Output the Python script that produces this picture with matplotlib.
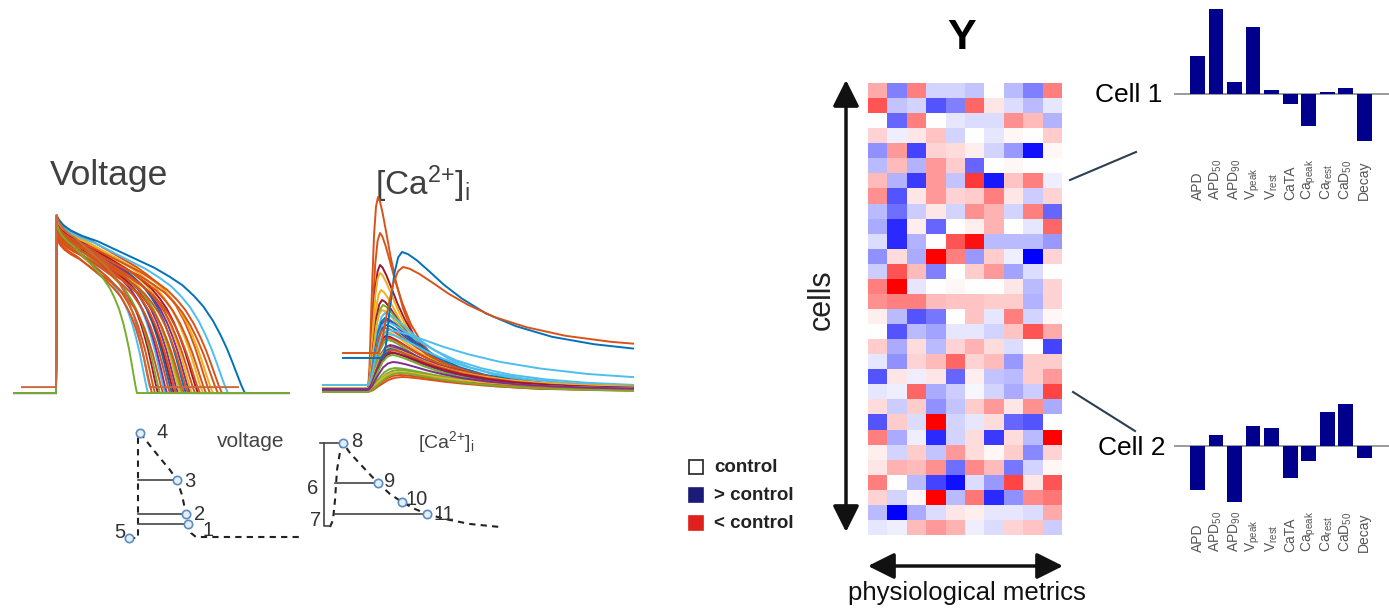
import numpy as np
import matplotlib.pyplot as plt
from matplotlib.patches import Rectangle
from matplotlib.transforms import blended_transform_factory

plt.rcParams['font.family'] = ['Liberation Sans', 'DejaVu Sans']
plt.rcParams['mathtext.fontset'] = 'custom'
plt.rcParams['mathtext.rm'] = 'Liberation Sans'
plt.rcParams['mathtext.it'] = 'Liberation Sans:italic'
plt.rcParams['mathtext.bf'] = 'Liberation Sans:bold'

W, H = 1389, 609

# MATLAB default line colours
MB, MO, MY, MP, MG, MC, MR = '#0072BD', '#D95319', '#EDB120', '#7E2F8E', '#77AC30', '#4DBEEE', '#A2142F'

# =========================================================
# Data: action potentials (ms, mV)
# =========================================================
ap_tau = [0, 0.004, 0.015, 0.04, 0.08, 0.14, 0.22, 0.32, 0.42, 0.52, 0.6, 0.67,
          0.73, 0.78, 0.83, 0.87, 0.905, 0.935, 0.96, 0.98, 0.995, 1.0]
ap_shape = [0, 1.0, 0.98, 0.95, 0.92, 0.89, 0.86, 0.81, 0.76, 0.71, 0.66, 0.61,
            0.55, 0.49, 0.41, 0.33, 0.25, 0.17, 0.10, 0.045, 0.01, 0]
ap_apd = [184, 192, 198, 204, 208, 214, 218, 222, 228, 232, 236, 240, 244, 248, 252,
          256, 260, 264, 268, 272, 278, 284, 288, 294, 300, 308, 314, 324, 332, 344, 378, 162]
ap_peak = [28, 22, 25, 30, 28, 20, 32, 30, 24, 31, 29, 26, 30, 32, 28,
           22, 33, 25, 30, 33, 27, 31, 24, 33, 28, 35, 32, 26, 29, 33, 34, 30]
ap_color = [MC, MO, MO, MR, MG, MO, MC, MP, MO, MB, MR, MO, MP, MY, MG,
            MO, MB, MO, MP, MY, MO, MR, MO, MY, MO, MO, MY, MO, MO, MC, MB, MG]
ap_rest = -85
ap_start, ap_end = -86, 480

# odd trace with depolarised rest
odd_rest, odd_apd, odd_peak, odd_start, odd_end = -81, 188, 35, -68, 364

# =========================================================
# Data: calcium transients (ms, uM)
# =========================================================
rise_u = [0, 0.15, 0.35, 0.6, 0.8, 1.0]
rise_v = [0, 0.12, 0.45, 0.8, 0.95, 1.0]
decay_u = [0, 0.1, 0.25, 0.45, 0.7, 1.0, 1.4, 1.9, 2.5, 3.2, 4.0, 5.0, 6.5, 9.0, 20]
decay_v = [1, 0.98, 0.92, 0.82, 0.69, 0.56, 0.42, 0.3, 0.2, 0.13, 0.08, 0.045, 0.02, 0.005, 0]

ca_rest = [0.100, 0.100, 0.100, 0.105, 0.095, 0.105, 0.100, 0.110, 0.095, 0.105,
           0.100, 0.110, 0.100, 0.095, 0.105, 0.100, 0.110, 0.100, 0.095, 0.105,
           0.100, 0.110, 0.095, 0.100, 0.105, 0.100, 0.095, 0.125, 0.100, 0.095,
           0.100, 0.095, 0.090, 0.090, 0.100, 0.260, 0.285]
ca_peak = [1.065, 0.885, 0.725, 0.685, 0.600, 0.550, 0.525, 0.500, 0.485, 0.460,
           0.450, 0.440, 0.425, 0.410, 0.390, 0.380, 0.370, 0.360, 0.350, 0.325,
           0.315, 0.310, 0.305, 0.300, 0.290, 0.285, 0.275, 0.400, 0.210, 0.200,
           0.190, 0.175, 0.165, 0.185, 0.240, 0.790, 0.715]
ca_ttp = [20, 24, 24, 24, 26, 28, 30, 28, 34, 34, 36, 36, 36, 34, 38, 40, 36, 38, 40, 44,
          44, 42, 44, 46, 44, 48, 48, 40, 54, 60, 60, 64, 68, 64, 50, 38, 50]
ca_decay = [36, 44, 50, 50, 56, 60, 64, 70, 90, 80, 76, 100, 84, 90, 80, 110, 84, 90, 80, 90,
            100, 96, 90, 100, 90, 100, 90, 160, 110, 120, 120, 120, 120, 110, 100, 120, 130]
ca_onset = [0] * 35 + [30, 20]
ca_start = [-90] * 35 + [-50, -50]
ca_color = [MO, MO, MR, MY, MY, MR, MG, MY, MC, MB, MP, MC, MB, MO, MY, MC, MR, MO, MG, MP,
            MP, MY, MB, MO, MP, MR, MG, MC, MG, MG, MY, MO, MO, MG, MP, MB, MO]

# =========================================================
# Data: schematic markers (diagram units)
# =========================================================
v_curve_x = [140, 148, 160, 170, 177, 182, 186, 188, 191, 196, 303]
v_curve_y = [433, 443, 458, 470, 480, 495, 514, 524, 533, 537, 537]
v_pts_x = [188, 186, 177, 140, 129]
v_pts_y = [524, 514, 480, 433, 538]
v_pts_lab = ['1', '2', '3', '4', '5']
v_lab_x = [208, 200, 190, 162, 120]
v_lab_y = [530, 515, 481, 432, 532]
v_hlines_y = [480, 514, 524]
v_hlines_x1 = [177, 186, 188]

c_curve_x = [330, 333, 335, 337, 340, 343, 350, 362, 378, 390, 402, 415, 427, 445, 470, 500]
c_curve_y = [527, 520, 500, 470, 452, 443, 453, 466, 483, 494, 502, 509, 514, 519, 524, 527]
c_pts_x = [343, 378, 402, 427]
c_pts_y = [443, 483, 502, 514]
c_pts_lab = ['8', '9', '10', '11', '6', '7']
c_lab_x = [357, 390, 417, 444, 313, 316]
c_lab_y = [441, 481, 499, 514, 488, 520]
c_hlines_y = [483, 514]
c_hlines_x1 = [378, 427]

# =========================================================
# Data: heat map (30 cells x 10 metrics)
# =========================================================
heat = np.array([
    [1, -1.5, 1.5, -0.5, -0.5, -0.7, 0, -0.8, -1.5, 1.5],
    [2, -0.7, -0.5, -2, -1.5, 1.8, 0.3, -0.4, -0.8, -0.3],
    [0, -1.8, 1.5, 0, -0.3, -0.4, -0.4, 1.3, 0.8, -0.9],
    [0.5, -0.2, 0.3, 0.7, -0.5, 0, -0.3, 0.1, 0, 0.6],
    [-1.3, 1.2, -2.2, 0.5, 0.4, 0.2, -0.5, -1.2, -2.8, 0.1],
    [-0.8, 0.8, -0.9, 1.2, 0.6, -1.8, 0, 0.1, 0, 0],
    [0.8, -0.9, -2.3, 1.2, -0.7, 2.3, -2.7, 0.7, 1.5, -0.2],
    [1.3, -2, 0.3, 1.2, 0.5, 0.6, 1.5, 0.3, -0.6, 0.5],
    [-0.8, -1.7, -0.6, 0.3, -0.5, 1.3, 0.9, -0.5, 1.5, -1.8],
    [-1, -2.5, 0.2, -1.8, 0, 0.2, 0.9, 0, -0.3, 1.8],
    [-0.4, -2.5, -0.9, 0, 2, 2.8, -0.8, -0.8, -0.8, -1.2],
    [-1.3, 0.4, -1, 3, 1.5, -1.2, 0.6, -0.2, -3, 0.5],
    [-0.6, 2, 0.8, -1.5, 0, 0.6, 1.2, -1.1, -0.4, 0],
    [1.5, 3, -0.3, 0, 0.1, 0, 0, 0.3, -0.8, 0.5],
    [1.3, 1.5, 1.5, 0.8, 0.7, 0.7, 0.6, 0.6, -0.9, 0.5],
    [0.2, -0.8, -2, -1.6, 0, 0.7, -0.3, 1.5, -0.5, 0.1],
    [0, -2, -0.8, -1.1, -0.3, -0.3, -0.5, 0.7, 2, 1],
    [0.6, -1, 0.4, -0.8, 0.5, 0.9, 0.4, -0.4, 0, -2.2],
    [-0.3, -1.3, 0.5, 0.8, 1.8, 0.5, 0.8, -1.2, 0.6, 0.6],
    [-2, 0.3, -0.2, 0.3, -1.8, 0.2, -0.7, -0.8, 0.6, 1.2],
    [-0.3, -0.2, 1.8, -1, -0.6, -0.1, -0.5, -1, -0.6, 2.2],
    [0.4, -0.6, 0.6, -1.3, -0.7, 0.6, 1.2, 0.3, 1.3, -1],
    [-2, 0.6, -0.4, 3, -0.5, -0.3, 0.4, -1.8, -2, 0],
    [1.5, -1, -0.2, -2.5, -0.5, 0.4, -2.3, 0.4, -0.8, 3],
    [0.2, -0.5, 0.6, -0.7, 1.2, 0.4, 0.1, 0.6, -1.4, 0.5],
    [0.3, 0.9, 0.8, 1.3, -1.7, 1.4, 0.8, -1.6, -0.5, 0.1],
    [1.5, 0, -0.8, -2.2, -2.8, -0.4, -1.2, 2.2, 0.3, 2],
    [0.5, -0.5, 0.1, 3, -0.8, 1.6, -2.5, -1.3, 1.4, 1.6],
    [-0.8, -3, -1, -0.4, 0.3, 0.2, -0.3, -0.3, -0.4, 1],
    [-0.3, -0.2, 0.8, 1.2, 0.9, -0.2, -0.4, 0.5, 0.7, -0.6],
])

# =========================================================
# Data: example cells
# =========================================================
metrics = ['APD', 'APD$_{50}$', 'APD$_{90}$', 'V$_{\\mathrm{peak}}$', 'V$_{\\mathrm{rest}}$',
           'CaTA', 'Ca$_{\\mathrm{peak}}$', 'Ca$_{\\mathrm{rest}}$', 'CaD$_{50}$', 'Decay']
cell1 = [1.9, 4.25, 0.6, 3.35, 0.2, -0.5, -1.6, 0.1, 0.3, -2.35]
cell2 = [-2.2, 0.55, -2.8, 1.0, 0.9, -1.6, -0.75, 1.7, 2.1, -0.6]


def box(x0, y0, x1, y1):
    return [x0 / W, 1 - y1 / H, (x1 - x0) / W, (y1 - y0) / H]


fig = plt.figure(figsize=(W / 100, H / 100), dpi=100)

# overlay for text, arrows, legend
ov = fig.add_axes([0, 0, 1, 1])
ov.set_xlim(0, W)
ov.set_ylim(H, 0)
ov.axis('off')

# ---------------- voltage traces ----------------
axv = fig.add_axes(box(13, 205, 290, 400))
axv.set_xlim(-86, 468)
axv.set_ylim(-89.7, 41.8)
axv.axis('off')
tau = np.array(ap_tau)
shp = np.array(ap_shape)
for apd, pk, col in zip(ap_apd, ap_peak, ap_color):
    t = np.concatenate([[ap_start], tau * apd, [ap_end]])
    v = np.concatenate([[ap_rest], ap_rest + (pk - ap_rest) * shp, [ap_rest]])
    axv.plot(t, v, color=col, lw=1.4, solid_joinstyle='round')
t = np.concatenate([[odd_start], tau * odd_apd, [odd_end]])
v = np.concatenate([[odd_rest], odd_rest + (odd_peak - odd_rest) * shp, [odd_rest]])
axv.plot(t, v, color='#C86A40', lw=1.4)

# ---------------- calcium traces ----------------
axc = fig.add_axes(box(320, 190, 634, 398))
axc.set_xlim(-96, 532)
axc.set_ylim(0.06, 1.1)
axc.axis('off')
ru, rv = np.array(rise_u), np.array(rise_v)
du, dv = np.array(decay_u), np.array(decay_v)
for r, p, ttp, dec, on, st, col in zip(ca_rest, ca_peak, ca_ttp, ca_decay,
                                        ca_onset, ca_start, ca_color):
    t = np.concatenate([[st], on + ru * ttp, on + ttp + du[1:] * dec])
    v = np.concatenate([[r], r + (p - r) * rv, r + (p - r) * dv[1:]])
    axc.plot(t, v, color=col, lw=1.4)

# ---------------- schematic ----------------
axs = fig.add_axes(box(100, 420, 520, 550))
axs.set_xlim(100, 520)
axs.set_ylim(550, 420)
axs.axis('off')
dash = dict(color='#222222', lw=1.5, ls=(0, (3, 2.5)))
axs.plot(v_curve_x, v_curve_y, **dash)
axs.plot([129, 138, 138, 140], [538, 538, 433, 433], **dash)
for y, x1 in zip(v_hlines_y, v_hlines_x1):
    axs.plot([138, x1], [y, y], color='#444444', lw=1.2)
axs.plot(c_curve_x, c_curve_y, **dash)
axs.plot([320, 343], [443, 443], color='#444444', lw=1.2)
axs.plot([324, 324, 330], [443, 526, 526], color='#444444', lw=1.2)
for y, x1 in zip(c_hlines_y, c_hlines_x1):
    axs.plot([335, x1], [y, y], color='#444444', lw=1.2)
mk = dict(ls='none', marker='o', ms=6, mfc='#e4eef8', mec='#5a8cc4', mew=1.2)
axs.plot(v_pts_x, v_pts_y, **mk)
axs.plot(c_pts_x, c_pts_y, **mk)
for s, x, y in zip(v_pts_lab, v_lab_x, v_lab_y):
    axs.text(x, y, s, fontsize=14.5, color='#333333', ha='center', va='center')
for s, x, y in zip(c_pts_lab, c_lab_x, c_lab_y):
    axs.text(x, y, s, fontsize=14.5, color='#333333', ha='center', va='center')

# ---------------- heat map ----------------
axh = fig.add_axes(box(868, 83, 1062, 535))
axh.imshow(heat, cmap='bwr', vmin=-3, vmax=3, aspect='auto', interpolation='nearest')
axh.axis('off')

# ---------------- example cells ----------------
for vals, (y0, y1), ylim, laby in [(cell1, (0, 150), (-2.8, 4.7), -0.333),
                                     (cell2, (390, 510), (-3.2, 2.8), -0.35)]:
    ax = fig.add_axes(box(1174, y0, 1389, y1))
    ax.set_xlim(-1.27, 10.35)
    ax.set_ylim(*ylim)
    ax.axhline(0, color='#8a8a8a', lw=1.2, zorder=0)
    ax.bar(range(len(vals)), vals, width=0.81, color='#00008C', zorder=2)
    ax.axis('off')
    tr = blended_transform_factory(ax.transData, ax.transAxes)
    for i, lab in enumerate(metrics):
        ax.text(i, laby, lab, transform=tr, rotation=90, ha='center', va='bottom',
                fontsize=10, color='#555555', clip_on=False)

# ---------------- text / arrows ----------------
ca_label = '[Ca$^{2{+}}$]$_{\\mathrm{i}}$'
ov.text(50, 185, 'Voltage', fontsize=25.5, color='#404040', ha='left', va='baseline')
ov.text(375, 195, ca_label, fontsize=24, color='#404040', ha='left', va='baseline')
ov.text(217, 447, 'voltage', fontsize=15, color='#444444', ha='left', va='baseline')
ov.text(418, 448, ca_label, fontsize=14, color='#444444', ha='left', va='baseline')

for y, fc, lab in [(467, 'white', 'control'), (495, '#1c1c78', '> control'),
                   (523, '#e0201c', '< control')]:
    ov.add_patch(Rectangle((689, y - 7), 14, 14, fc=fc,
                           ec='#222222' if fc == 'white' else fc, lw=1.2))
    ov.text(714, y, lab, fontsize=13.5, fontweight='bold', color='#222222',
            ha='left', va='center')

arrow = dict(arrowstyle='<|-|>,head_length=0.8,head_width=0.4', lw=2.5,
             color='#111111', mutation_scale=20, shrinkA=0, shrinkB=0)
ov.annotate('', xy=(846, 80), xytext=(846, 532), arrowprops=arrow)
ov.annotate('', xy=(868, 566), xytext=(1063, 566), arrowprops=arrow)
ov.text(822, 300, 'cells', fontsize=22, rotation=90, ha='center', va='center', color='#222222')
ov.text(967, 593, 'physiological metrics', fontsize=18.5, ha='center', va='center',
        color='#111111')
ov.text(962, 38, 'Y', fontsize=31, fontweight='bold', ha='center', va='center')
ov.text(1162, 95, 'Cell 1', fontsize=19, ha='right', va='center')
ov.text(1165, 448, 'Cell 2', fontsize=19, ha='right', va='center')
ov.plot([1070, 1136], [180, 152], color='#2d3e50', lw=1.5)
ov.plot([1073, 1135], [392, 431], color='#2d3e50', lw=1.5)

fig.savefig('out.png', dpi=100)
